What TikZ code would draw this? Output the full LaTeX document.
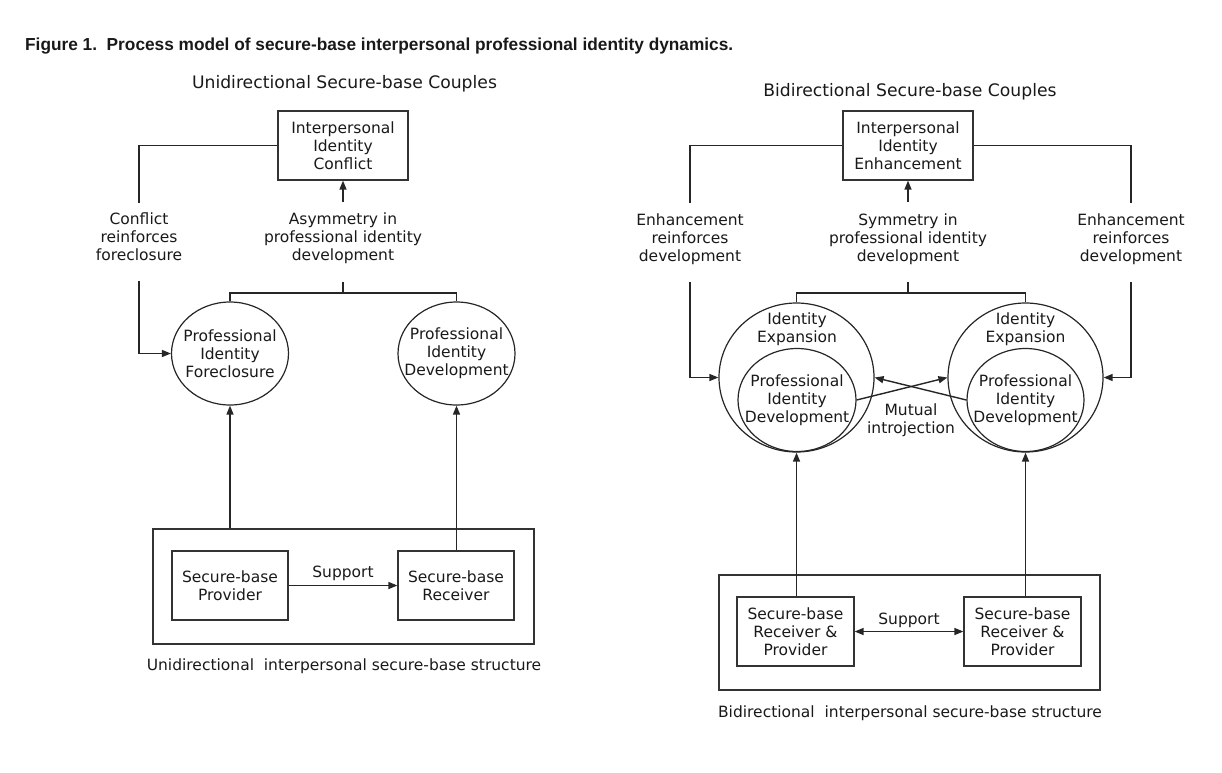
\documentclass[tikz,border=0pt]{standalone}
\usepackage{fontspec}
\setmainfont{DejaVu Sans}
\newfontfamily\titlefont{Liberation Sans}
\usetikzlibrary{arrows.meta,shapes.geometric}
\begin{document}
\begin{tikzpicture}[x=1pt,y=-1pt,
  every node/.style={font=\fontsize{15.5}{18}\selectfont, text=black!90, inner sep=0pt},
  box/.style={draw=black!80, line width=1.2pt, rectangle, align=center},
  oval/.style={draw=black!85, line width=1.2pt, ellipse},
  txt/.style={align=center},
  line/.style={line width=1.4pt, draw=black!85},
  arr/.style={line, -{Triangle[length=9pt,width=7pt]}},
  darr/.style={line, {Triangle[length=9pt,width=7pt]}-{Triangle[length=9pt,width=7pt]}},
  head/.style={font=\fontsize{17.2}{20}\selectfont, anchor=base},
]
\useasboundingbox (0,0) rectangle (1222,772);

% title
\node[anchor=base west] (title) at (25,50) {\resizebox{708pt}{12.6pt}{\titlefont\bfseries Figure 1.\ \ Process model of secure-base interpersonal professional identity dynamics.}};

% ---------------- left panel ----------------
\node[head] (headL) at (344.5,88.5) {Unidirectional Secure-base Couples};
\node[box, minimum width=130pt, minimum height=69pt] (confL) at (343,145.5) {Interpersonal\\Identity\\Conflict};
\node[txt] (asymL) at (343,238) {Asymmetry in\\professional identity\\development};
\node[txt] (cfL) at (139,236.5) {Conflict\\reinforces\\foreclosure};
\node[oval, minimum width=117pt, minimum height=103pt] (pfL) at (230,353.5) {};
\node[txt] (pfLt) at (230,353.5) {Professional\\Identity\\Foreclosure};
\node[oval, minimum width=117pt, minimum height=103pt] (pdL) at (456.5,353.5) {};
\node[txt] (pdLt) at (456.5,353.5) {Professional\\Identity\\Development};
\node[box, minimum width=381pt, minimum height=115pt] (stL) at (343.5,586.5) {};
\node[box, minimum width=116pt, minimum height=69pt] (prov) at (230,585.5) {Secure-base\\Provider};
\node[box, minimum width=116pt, minimum height=69pt] (recv) at (456,585.5) {Secure-base\\Receiver};
\node[anchor=base] (supL) at (343,577) {Support};
\node (capL) at (344,666) {Unidirectional\ \ interpersonal secure-base structure};

\coordinate (cfTop) at (139,203);
\coordinate (cfBot) at (139,281);
\coordinate (aTop) at (343,202);
\coordinate (aBot) at (343,282);
\coordinate (jL) at (343,293);

\draw[line] (confL.west) -| (cfTop);
\draw[arr] (cfBot) |- (pfL.west);
\draw[arr] (aTop) -- (confL.south);
\draw[line] (aBot) -- (jL);
\draw[line] (pfL.north) |- (jL) -| (pdL.north);
\draw[arr] (stL.north -| pfL.south) -- (pfL.south);
\draw[arr] (recv.north -| pdL.south) -- (pdL.south);
\draw[arr] (prov.east) -- (recv.west);

% ---------------- right panel ----------------
\node[head] (headR) at (910,96.5) {Bidirectional Secure-base Couples};
\node[box, minimum width=130pt, minimum height=69pt] (enh) at (908,145.5) {Interpersonal\\Identity\\Enhancement};
\node[txt] (symR) at (908,239) {Symmetry in\\professional identity\\development};
\node[txt] (erL) at (690,239) {Enhancement\\reinforces\\development};
\node[txt] (erR) at (1131,239) {Enhancement\\reinforces\\development};

\node[oval, minimum width=155pt, minimum height=149pt] (oL) at (796.5,377.5) {};
\node[oval, minimum width=118pt, minimum height=103pt] (iL) at (797,400) {};
\node[txt] (exL) at (797,329.5) {Identity\\Expansion};
\node[txt] (iLt) at (797,400) {Professional\\Identity\\Development};

\node[oval, minimum width=155pt, minimum height=149pt] (oR) at (1025.5,377.5) {};
\node[oval, minimum width=117pt, minimum height=103pt] (iR) at (1025.5,400) {};
\node[txt] (exR) at (1025.5,329.5) {Identity\\Expansion};
\node[txt] (iRt) at (1025.5,400) {Professional\\Identity\\Development};

\node[txt] (mut) at (911,420) {Mutual\\introjection};

\node[box, minimum width=381pt, minimum height=115pt] (stR) at (909.5,632.5) {};
\node[box, minimum width=117pt, minimum height=69pt] (rpL) at (795.5,631.5) {Secure-base\\Receiver \&\\Provider};
\node[box, minimum width=117pt, minimum height=69pt] (rpR) at (1022.5,631.5) {Secure-base\\Receiver \&\\Provider};
\node[anchor=base] (supR) at (909,624.5) {Support};
\node (capR) at (910,713) {Bidirectional\ \ interpersonal secure-base structure};

\coordinate (elTop) at (690,203);
\coordinate (elBot) at (690,282);
\coordinate (erTop) at (1131,203);
\coordinate (erBot) at (1131,282);
\coordinate (sTop) at (908,202);
\coordinate (sBot) at (908,282);
\coordinate (jR) at (908,293);

\draw[line] (enh.west) -| (elTop);
\draw[line] (enh.east) -| (erTop);
\draw[arr] (elBot) |- (oL.west);
\draw[arr] (erBot) |- (oR.east);
\draw[arr] (sTop) -- (enh.south);
\draw[line] (sBot) -- (jR);
\draw[line] (oL.north) |- (jR) -| (oR.north);
\draw[arr] (iL.east) -- (oR.west);
\draw[arr] (iR.west) -- (oL.east);
\draw[darr] (rpL.east) -- (rpR.west);
\draw[arr] (rpL.north -| oL.south) -- (oL.south);
\draw[arr] (rpR.north -| oR.south) -- (oR.south);
\end{tikzpicture}
\end{document}
